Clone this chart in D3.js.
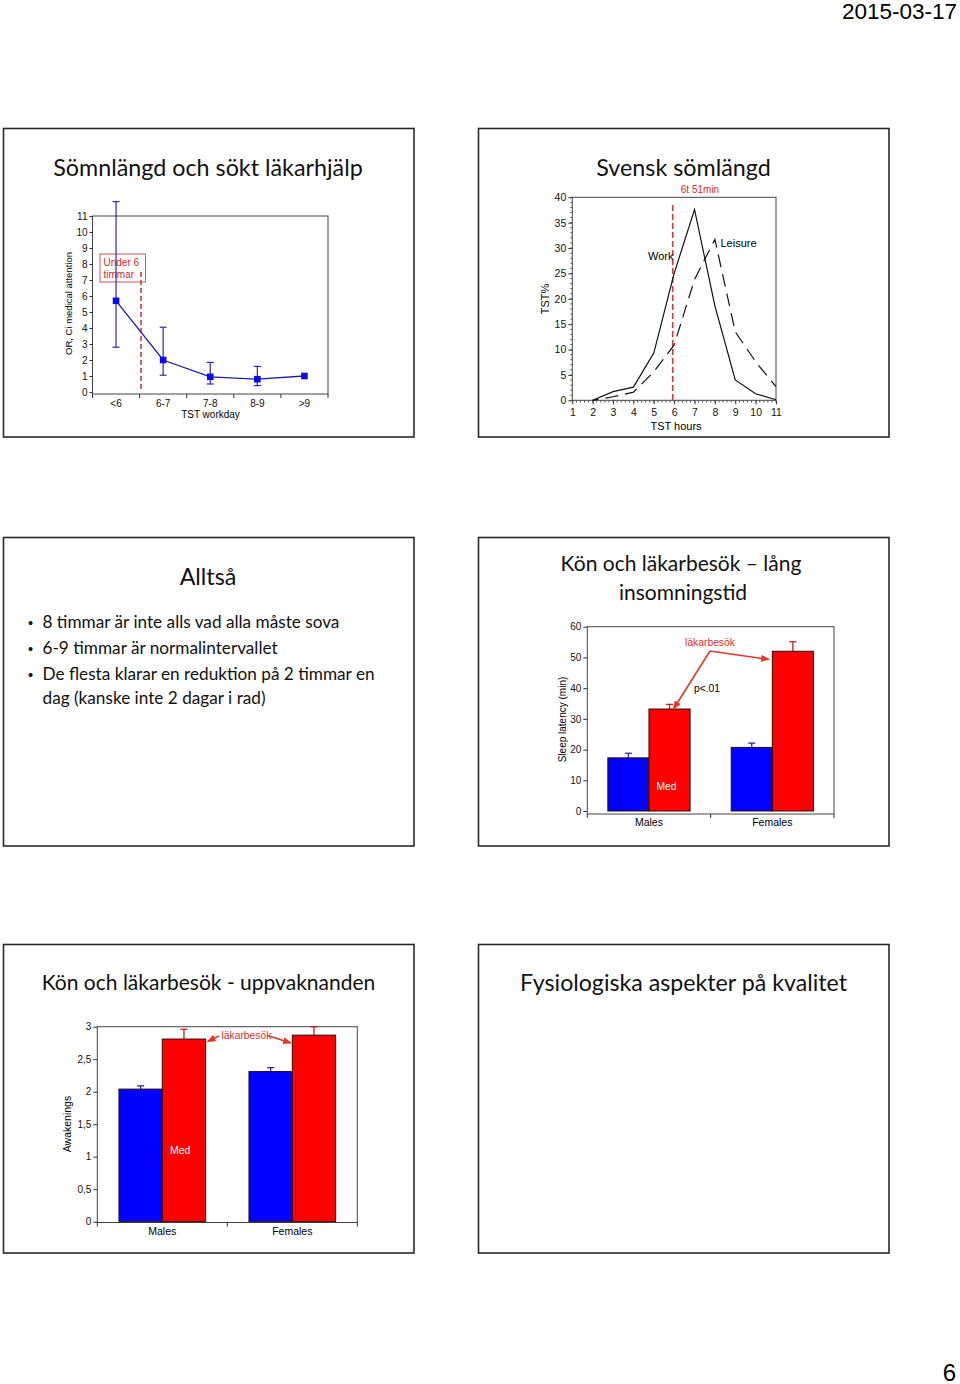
<!DOCTYPE html>
<html><head><meta charset="utf-8">
<script src="https://cdn.jsdelivr.net/npm/d3@7"></script>
<style>body{margin:0;background:#fff}svg{display:block}</style>
</head><body>
<svg id="c" width="960" height="1384"></svg>
<script>
// ---------- DATA ----------
// Slide 1: OR by sleep duration
const sleepCats = ["<6", "6-7", "7-8", "8-9", ">9"];
const orValues = [5.7, 2.0, 0.95, 0.8, 1.0];
const orLow = [2.8, 1.05, 0.5, 0.4, null];
const orHigh = [11.9, 4.05, 1.85, 1.6, null];
const orTicks = [0, 1, 2, 3, 4, 5, 6, 7, 8, 9, 10, 11];

// Slide 2: Swedish sleep duration distribution
const tstHours = [2, 3, 4, 5, 6, 7, 8, 9, 10, 11];
const workPct = [0, 1.7, 2.6, 9.3, 25.0, 37.6, 18.6, 4.0, 1.3, 0.1];
const leisurePct = [0, 0.7, 1.6, 5.6, 10.9, 23.8, 31.7, 13.5, 7.6, 2.7];
const tstTicksX = [1, 2, 3, 4, 5, 6, 7, 8, 9, 10, 11];
const tstTicksY = [0, 5, 10, 15, 20, 25, 30, 35, 40];
const meanSleepHour = 5.93;

// Slide 4: sleep latency
const sexGroups = ["Males", "Females"];
const latencyNoVisit = [17.3, 20.7];
const latencyNoVisitErr = [18.8, 22.1];
const latencyVisit = [33.2, 52.0];
const latencyVisitErr = [34.7, 55.1];
const latencyTicks = [0, 10, 20, 30, 40, 50, 60];

// Slide 5: awakenings
const awakeNoVisit = [2.04, 2.31];
const awakeNoVisitErr = [2.09, 2.37];
const awakeVisit = [2.81, 2.87];
const awakeVisitErr = [2.96, 3.0];
const awakeTicks = [0, 0.5, 1, 1.5, 2, 2.5, 3];
const awakeTickLabels = ["0", "0,5", "1", "1,5", "2", "2,5", "3"];

// Slide texts
const slideTitles = ["Sömnlängd och sökt läkarhjälp", "Svensk sömlängd", "Alltså",
  ["Kön och läkarbesök – lång", "insomningstid"], "Kön och läkarbesök - uppvaknanden",
  "Fysiologiska aspekter på kvalitet"];
const bulletLines = [
  {b: true, t: "8 timmar är inte alls vad alla måste sova"},
  {b: true, t: "6-9 timmar är normalintervallet"},
  {b: true, t: "De flesta klarar en reduktion på 2 timmar en"},
  {b: false, t: "dag (kanske inte 2 dagar i rad)"}
];

// ---------- DRAW ----------
const svg = d3.select("#c");
svg.append("rect").attr("width", 960).attr("height", 1384).attr("fill", "#fff");
const SF = "Lato, 'Open Sans', sans-serif";
const CF = "'Liberation Sans', Arial, sans-serif";
const RED = "#ff0000", BLUE = "#0000ff";

const defs = svg.append("defs");
defs.append("marker").attr("id", "arr").attr("viewBox", "0 0 10 8")
  .attr("refX", 9).attr("refY", 4).attr("markerWidth", 9).attr("markerHeight", 7)
  .attr("markerUnits", "userSpaceOnUse").attr("orient", "auto")
  .append("path").attr("d", "M0,0 L10,4 L0,8 z").attr("fill", "#e8352a");

// header / footer
svg.append("text").attr("x", 957).attr("y", 18.5).attr("text-anchor", "end")
  .attr("font-family", CF).attr("font-size", 22.5).text("2015-03-17");
svg.append("text").attr("x", 956).attr("y", 1380.5).attr("text-anchor", "end")
  .attr("font-family", CF).attr("font-size", 24).text("6");

// slide boxes
const colX = [3.5, 478.5], rowY = [128.5, 537.5, 944.5];
const boxW = 410.5, boxH = 308.5;
rowY.forEach(ry => colX.forEach(cx => {
  svg.append("rect").attr("x", cx).attr("y", ry).attr("width", boxW).attr("height", boxH)
    .attr("fill", "none").attr("stroke", "#2a2a2a").attr("stroke-width", 1.6);
}));

function title(txt, x, y, size) {
  svg.append("text").attr("x", x).attr("y", y).attr("text-anchor", "middle")
    .attr("font-family", SF).attr("font-size", size).attr("fill", "#111").text(txt);
}
title(slideTitles[0], 208, 175.5, 23.3);
title(slideTitles[1], 683.5, 176, 23.3);
title(slideTitles[2], 208, 585, 23.3);
title(slideTitles[3][0], 681, 571, 21);
title(slideTitles[3][1], 683, 599.5, 21);
title(slideTitles[4], 208.5, 990, 21);
title(slideTitles[5], 683.5, 990.5, 23.2);

// bullets
const bulletY = [628.3, 654.3, 680.3, 703.5];
bulletLines.forEach((l, i) => {
  if (l.b) svg.append("text").attr("x", 28).attr("y", bulletY[i]).attr("font-family", CF)
    .attr("font-size", 14.5).attr("fill", "#111").text("•");
  svg.append("text").attr("x", 42.5).attr("y", bulletY[i]).attr("font-family", SF)
    .attr("font-size", 17.2).attr("fill", "#111").text(l.t);
});

function styleAxis(g, size) {
  g.select(".domain").remove();
  g.selectAll("text").attr("font-family", CF).attr("font-size", size).attr("fill", "#111");
  g.selectAll("line").attr("stroke", "#333");
}

// ---------- Chart 1 ----------
(function () {
  const x = d3.scaleBand().domain(sleepCats).range([92.5, 328]);
  const y = d3.scaleLinear().domain([0, 11]).range([392, 216]);
  const g = svg.append("g");
  g.append("rect").attr("x", 92.5).attr("y", 216).attr("width", 235.5).attr("height", 178)
    .attr("fill", "none").attr("stroke", "#444").attr("stroke-width", 1);
  const ya = g.append("g").attr("transform", "translate(92.5,0)")
    .call(d3.axisLeft(y).tickValues(orTicks).tickSize(3).tickPadding(2));
  styleAxis(ya, 10);
  const xa = g.append("g").attr("transform", "translate(0,394)")
    .call(d3.axisBottom(x).tickSize(0).tickPadding(6));
  styleAxis(xa, 10);
  const bounds = sleepCats.map(c => x(c)).concat([x.range()[1]]);
  g.selectAll(".bt").data(bounds).join("line").attr("x1", d => d).attr("x2", d => d)
    .attr("y1", 394).attr("y2", 398).attr("stroke", "#333");
  g.append("text").attr("x", 210.5).attr("y", 417.5).attr("text-anchor", "middle")
    .attr("font-family", CF).attr("font-size", 10).text("TST workday");
  g.append("text").attr("transform", "translate(71.5,303.5) rotate(-90)").attr("text-anchor", "middle")
    .attr("font-family", CF).attr("font-size", 9.5).text("OR, Ci medical attention");

  // annotation box
  g.append("rect").attr("x", 100).attr("y", 254).attr("width", 45.5).attr("height", 28)
    .attr("fill", "#fff").attr("stroke", "#c85a5a").attr("stroke-width", 1);
  g.append("text").attr("x", 103.5).attr("y", 266).attr("font-family", CF).attr("font-size", 10)
    .attr("fill", "#d22b2b").text("Under 6");
  g.append("text").attr("x", 103.5).attr("y", 277.5).attr("font-family", CF).attr("font-size", 10)
    .attr("fill", "#d22b2b").text("timmar");
  g.append("line").attr("x1", 141).attr("x2", 141).attr("y1", y(7.5)).attr("y2", y(0))
    .attr("stroke", "#d63a3a").attr("stroke-width", 1.6).attr("stroke-dasharray", "5,3");

  const cx = i => x(sleepCats[i]) + x.bandwidth() / 2;
  // error bars
  sleepCats.forEach((c, i) => {
    if (orLow[i] == null) return;
    g.append("line").attr("x1", cx(i)).attr("x2", cx(i)).attr("y1", y(orLow[i])).attr("y2", y(orHigh[i]))
      .attr("stroke", "#2a2ab4").attr("stroke-width", 1.2);
    [orLow[i], orHigh[i]].forEach(v => g.append("line").attr("x1", cx(i) - 3.5).attr("x2", cx(i) + 3.5)
      .attr("y1", y(v)).attr("y2", y(v)).attr("stroke", "#2a2ab4").attr("stroke-width", 1.2));
  });
  g.append("path").datum(orValues).attr("fill", "none").attr("stroke", "#1c1ca8").attr("stroke-width", 1.3)
    .attr("d", d3.line().x((d, i) => cx(i)).y(d => y(d)));
  g.selectAll(".mk").data(orValues).join("rect").attr("x", (d, i) => cx(i) - 3.3).attr("y", d => y(d) - 3.3)
    .attr("width", 6.6).attr("height", 6.6).attr("fill", "#0a0aee");
})();

// ---------- Chart 2 ----------
(function () {
  const x = d3.scaleLinear().domain([1, 11]).range([572.3, 776]);
  const y = d3.scaleLinear().domain([0, 40]).range([400.3, 197.3]);
  const g = svg.append("g");
  g.append("rect").attr("x", 572.3).attr("y", 197.3).attr("width", 203.7).attr("height", 203)
    .attr("fill", "none").attr("stroke", "#444").attr("stroke-width", 1);
  const ya = g.append("g").attr("transform", "translate(572.3,0)")
    .call(d3.axisLeft(y).tickValues(tstTicksY).tickSize(4).tickPadding(2));
  styleAxis(ya, 10.5);
  const yMinor = d3.range(0, 41, 1);
  g.selectAll(".ym").data(yMinor).join("line").attr("x1", 570.3).attr("x2", 572.3)
    .attr("y1", d => y(d)).attr("y2", d => y(d)).attr("stroke", "#555");
  const xa = g.append("g").attr("transform", "translate(0,400.3)")
    .call(d3.axisBottom(x).tickValues(tstTicksX).tickSize(4).tickPadding(4).tickFormat(d3.format("d")));
  styleAxis(xa, 10.5);
  const xMinor = d3.range(0, 51).map(i => 1 + i * 0.2);
  g.selectAll(".xm").data(xMinor).join("line").attr("x1", d => x(d)).attr("x2", d => x(d))
    .attr("y1", 400.3).attr("y2", 402.5).attr("stroke", "#555");
  g.append("text").attr("x", 676).attr("y", 430).attr("text-anchor", "middle")
    .attr("font-family", CF).attr("font-size", 11).text("TST hours");
  g.append("text").attr("transform", "translate(548.5,299) rotate(-90)").attr("text-anchor", "middle")
    .attr("font-family", CF).attr("font-size", 11).text("TST%");

  g.append("line").attr("x1", x(meanSleepHour)).attr("x2", x(meanSleepHour)).attr("y1", 205).attr("y2", y(0))
    .attr("stroke", "#d63a3a").attr("stroke-width", 1.6).attr("stroke-dasharray", "6,3");
  g.append("text").attr("x", 700).attr("y", 192.5).attr("text-anchor", "middle")
    .attr("font-family", CF).attr("font-size", 10).attr("fill", "#d22b2b").text("6t 51min");

  const line = d3.line().x((d, i) => x(tstHours[i])).y(d => y(d));
  g.append("path").datum(workPct).attr("fill", "none").attr("stroke", "#111").attr("stroke-width", 1.2).attr("d", line);
  g.append("path").datum(leisurePct).attr("fill", "none").attr("stroke", "#111").attr("stroke-width", 1.2)
    .attr("stroke-dasharray", "13,7").attr("stroke-dashoffset", 7).attr("d", line);
  g.append("text").attr("x", 648).attr("y", 260).attr("font-family", CF).attr("font-size", 11).text("Work");
  g.append("text").attr("x", 720.5).attr("y", 247).attr("font-family", CF).attr("font-size", 11).text("Leisure");
})();

// ---------- grouped bar helper ----------
function barChart(o) {
  const g = svg.append("g");
  const x0 = d3.scaleBand().domain(sexGroups).range([o.x0, o.x1]);
  const x1 = d3.scaleBand().domain(["no", "yes"]).range([0, x0.bandwidth()]).paddingOuter(0.5);
  const y = d3.scaleLinear().domain(o.domain).range([o.yZero, o.yTop]);
  g.append("rect").attr("x", o.x0).attr("y", o.yTop).attr("width", o.x1 - o.x0).attr("height", o.yAxis - o.yTop)
    .attr("fill", "none").attr("stroke", "#444").attr("stroke-width", 1);
  const ya = g.append("g").attr("transform", `translate(${o.x0},0)`)
    .call(d3.axisLeft(y).tickValues(o.ticks).tickSize(4).tickPadding(2).tickFormat((d, i) => o.labels[i]));
  styleAxis(ya, 10);
  const bounds = [o.x0, x0(sexGroups[1]), o.x1];
  g.selectAll(".bt").data(bounds).join("line").attr("x1", d => d).attr("x2", d => d)
    .attr("y1", o.yAxis).attr("y2", o.yAxis + 4).attr("stroke", "#333");
  sexGroups.forEach((s, i) => {
    g.append("text").attr("x", x0(s) + x0.bandwidth() / 2).attr("y", o.yAxis + 12)
      .attr("text-anchor", "middle").attr("font-family", CF).attr("font-size", 10.5).text(s);
    const series = [
      {k: "no", v: o.no[i], e: o.noErr[i], fill: BLUE, ec: "#2a2aa0"},
      {k: "yes", v: o.yes[i], e: o.yesErr[i], fill: RED, ec: "#c0201c"}
    ];
    series.forEach(b => {
      const bx = x0(s) + x1(b.k), bw = x1.bandwidth(), cx = bx + bw / 2;
      g.append("line").attr("x1", cx).attr("x2", cx).attr("y1", y(b.v)).attr("y2", y(b.e))
        .attr("stroke", b.ec).attr("stroke-width", 1.3);
      g.append("line").attr("x1", cx - 3.5).attr("x2", cx + 3.5).attr("y1", y(b.e)).attr("y2", y(b.e))
        .attr("stroke", b.ec).attr("stroke-width", 1.3);
      g.append("rect").attr("x", bx).attr("y", y(b.v)).attr("width", bw).attr("height", y(0) - y(b.v))
        .attr("fill", b.fill).attr("stroke", "#2a0a0a").attr("stroke-width", 1);
    });
  });
  g.append("text").attr("transform", `translate(${o.ylabX},${o.ylabY}) rotate(-90)`).attr("text-anchor", "middle")
    .attr("font-family", CF).attr("font-size", o.ylabSize).text(o.ylab);
  return {g, x0, x1, y};
}

// ---------- Chart 4 ----------
(function () {
  const c = barChart({x0: 587.3, x1: 834, yZero: 811, yTop: 626.7, yAxis: 814, domain: [0, 60],
    ticks: latencyTicks, labels: latencyTicks.map(String), no: latencyNoVisit, noErr: latencyNoVisitErr,
    yes: latencyVisit, yesErr: latencyVisitErr, ylab: "Sleep latency (min)", ylabX: 565.5, ylabY: 719.5, ylabSize: 10});
  const g = c.g;
  g.append("text").attr("x", 710).attr("y", 646).attr("text-anchor", "middle").attr("font-family", CF)
    .attr("font-size", 10.3).attr("fill", "#e0302a").text("läkarbesök");
  g.append("line").attr("x1", 710).attr("y1", 651).attr("x2", 673.5).attr("y2", 709)
    .attr("stroke", "#e8352a").attr("stroke-width", 1.6).attr("marker-end", "url(#arr)");
  g.append("line").attr("x1", 710).attr("y1", 651).attr("x2", 769).attr("y2", 659.5)
    .attr("stroke", "#e8352a").attr("stroke-width", 1.6).attr("marker-end", "url(#arr)");
  g.append("text").attr("x", 694).attr("y", 692).attr("font-family", CF).attr("font-size", 10.3).text("p<.01");
  g.append("text").attr("x", 656.5).attr("y", 789.5).attr("font-family", CF).attr("font-size", 10.3)
    .attr("fill", "#fff").text("Med");
})();

// ---------- Chart 5 ----------
(function () {
  const c = barChart({x0: 97.3, x1: 357.3, yZero: 1221.7, yTop: 1026.7, yAxis: 1222.5, domain: [0, 3],
    ticks: awakeTicks, labels: awakeTickLabels, no: awakeNoVisit, noErr: awakeNoVisitErr,
    yes: awakeVisit, yesErr: awakeVisitErr, ylab: "Awakenings", ylabX: 70.5, ylabY: 1124, ylabSize: 10.5});
  const g = c.g;
  g.append("text").attr("x", 221.5).attr("y", 1039).attr("font-family", CF)
    .attr("font-size", 10.3).attr("fill", "#e0302a").text("läkarbesök");
  g.append("line").attr("x1", 219).attr("y1", 1036).attr("x2", 207.5).attr("y2", 1041.5)
    .attr("stroke", "#e8352a").attr("stroke-width", 1.5).attr("marker-end", "url(#arr)");
  g.append("line").attr("x1", 269).attr("y1", 1036).attr("x2", 291).attr("y2", 1043)
    .attr("stroke", "#e8352a").attr("stroke-width", 1.5).attr("marker-end", "url(#arr)");
  g.append("text").attr("x", 170).attr("y", 1154.3).attr("font-family", CF).attr("font-size", 10.5)
    .attr("fill", "#fff").text("Med");
})();
</script>
</body></html>
